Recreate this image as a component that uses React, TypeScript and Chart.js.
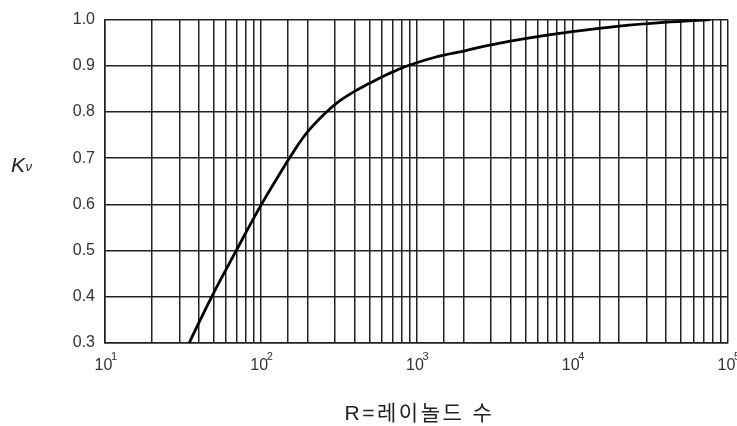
import React, { useEffect, useRef } from "react";
import { Chart, registerables } from "chart.js";

Chart.register(...registerables);

// Reynolds number R (x) and K_nu (y)
const reynolds = [34.7, 48.4, 69.6, 101, 136.7, 158.8, 184.7, 209.4, 237.7, 276.4, 321, 392.6, 492, 617, 717.5, 877, 1298, 2075, 2958, 4962, 10000, 20090, 38800, 76900];
const kv = [0.3, 0.4, 0.5, 0.6, 0.674, 0.709, 0.742, 0.765, 0.785, 0.806, 0.824, 0.843, 0.861, 0.878, 0.888, 0.9, 0.918, 0.933, 0.945, 0.959, 0.974, 0.986, 0.994, 1.0];

const xTickExponents = [1, 2, 3, 4, 5];
const yMin = 0.3;
const yMax = 1.0;
const yStep = 0.1;
const xMin = 10;
const xMax = 100000;
const xTitle = "R=레이놀드 수";
const yTitleMain = "K";
const yTitleSub = "ν";

const FONT = '"Liberation Sans", Arial, "Noto Sans CJK KR", sans-serif';

const labelPlugin = {
  id: "customLabels",
  afterDraw(chart: any) {
    const ctx = chart.ctx as CanvasRenderingContext2D;
    const xs = chart.scales.x;
    const area = chart.chartArea;
    ctx.save();
    ctx.fillStyle = "#333";
    ctx.textBaseline = "alphabetic";
    for (const e of xTickExponents) {
      const px = xs.getPixelForValue(Math.pow(10, e)) - 1.5;
      ctx.font = `16px ${FONT}`;
      ctx.textAlign = "center";
      ctx.fillText("10", px, 370);
      const w = ctx.measureText("10").width;
      ctx.font = `11px ${FONT}`;
      ctx.textAlign = "left";
      ctx.fillText(String(e), px + w / 2 - 1.5, 360);
    }
    // x-axis title
    ctx.fillStyle = "#222";
    ctx.font = `21px ${FONT}`;
    (ctx as any).letterSpacing = "2.5px";
    ctx.textAlign = "center";
    ctx.fillText(xTitle, (area.left + area.right) / 2 + 3, 419.5);
    (ctx as any).letterSpacing = "0px";
    // y-axis title K_nu (horizontal)
    ctx.font = `italic 21px ${FONT}`;
    ctx.textAlign = "left";
    ctx.fillText(yTitleMain, 11, 172);
    const kw = ctx.measureText(yTitleMain).width;
    ctx.font = `italic 13px ${FONT}`;
    ctx.fillText(yTitleSub, 11 + kw + 0.5, 171);
    ctx.restore();
  },
};

export default function App() {
  const ref = useRef<HTMLCanvasElement | null>(null);

  useEffect(() => {
    if (!ref.current) return;
    const chart = new Chart(ref.current, {
      type: "line",
      data: {
        datasets: [
          {
            data: reynolds.map((r, i) => ({ x: r, y: kv[i] })),
            borderColor: "#000",
            borderWidth: 2.8,
            pointRadius: 0,
            tension: 0.4,
            fill: false,
          },
        ],
      },
      options: {
        animation: false,
        responsive: false,
        maintainAspectRatio: false,
        layout: { padding: { left: 0, right: 32, top: 16, bottom: 0 } },
        plugins: {
          legend: { display: false },
          tooltip: { enabled: false },
        },
        scales: {
          x: {
            type: "logarithmic",
            min: xMin,
            max: xMax,
            grid: { color: "#222", lineWidth: 1.5, drawTicks: false },
            border: { display: true, color: "#222", width: 1.5 },
            ticks: { display: false, autoSkip: false },
            afterFit(scale: any) {
              scale.height = 83;
            },
          },
          y: {
            type: "linear",
            min: yMin,
            max: yMax,
            grid: { color: "#222", lineWidth: 1.5, drawTicks: false },
            border: { display: true, color: "#222", width: 1.5 },
            ticks: {
              stepSize: yStep,
              padding: 10,
              color: "#333",
              font: { family: FONT, size: 16 },
              callback: (v: any) => Number(v).toFixed(1),
            },
            afterFit(scale: any) {
              scale.width = 105;
            },
          },
        },
      },
      plugins: [labelPlugin],
    } as any);
    return () => chart.destroy();
  }, []);

  return (
    <div
      style={{
        position: "fixed",
        left: 0,
        top: 0,
        width: 737,
        height: 426,
        overflow: "hidden",
        background: "#fff",
      }}
    >
      <canvas ref={ref} width={760} height={426} style={{ width: 760, height: 426, display: "block" }} />
    </div>
  );
}
